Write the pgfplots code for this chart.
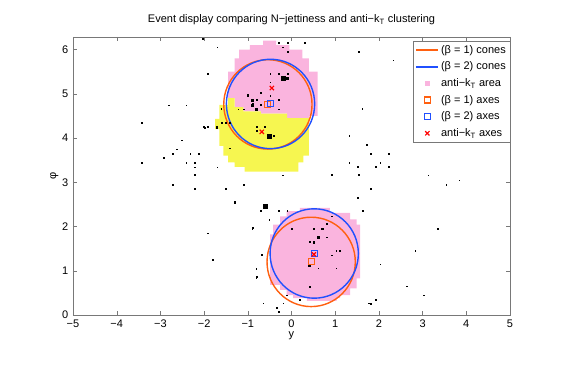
\documentclass[border=0pt]{standalone}
\usepackage{fontspec}
\setmainfont{Liberation Sans}
\usepackage{pgfplots}
\pgfplotsset{compat=1.18}

\definecolor{coneA}{RGB}{255,96,16}
\definecolor{coneB}{RGB}{32,80,255}
\definecolor{areaA}{RGB}{250,180,222}
\definecolor{areaB}{RGB}{246,246,80}
\definecolor{framegray}{RGB}{120,120,120}

\pgfplotsset{
  legline/.style={legend image code/.code={%
    \draw[mark repeat=2,mark phase=2,##1] plot coordinates {(0pt,0pt) (11pt,0pt) (22pt,0pt)};}},
}

\begin{document}
\fontsize{11}{13}\selectfont
\begin{tikzpicture}
\useasboundingbox (-73pt,-51pt) rectangle (495pt,315pt);
\begin{axis}[
  at={(0pt,0pt)}, anchor=south west,
  scale only axis, width=437pt, height=278pt,
  xmin=-5, xmax=5, ymin=0, ymax=6.2832,
  xtick={-5,-4,...,5}, ytick={0,1,...,6},
  xticklabels={−5,−4,−3,−2,−1,0,1,2,3,4,5},
  /pgf/number format/assume math mode=true,
  xticklabel style={yshift=-1pt}, yticklabel style={xshift=-1pt},
  tick align=inside, tick pos=both, major tick length=4pt,
  axis line style={framegray}, tick style={framegray},
  xlabel={y}, ylabel={φ},
  xlabel style={yshift=3pt}, ylabel style={yshift=-4pt},
  title={Event display comparing N−jettiness and anti−k\textsubscript{T} clustering},
  title style={yshift=2pt},
  legline,
  legend style={at={(1,0.985)}, anchor=north east, draw=framegray, fill=white,
    font=\fontsize{11}{12}\selectfont, inner sep=2pt, row sep=3pt},
  legend cell align=left,
]
% anti-kT jet areas
\addplot[fill=areaA, draw=none, forget plot] coordinates {
  (-0.65,6.2) (-0.35,6.2) (-0.35,6.1) (-0.05,6.1) (-0.05,6.0) (0.25,6.0) (0.25,5.8)
  (0.4,5.8) (0.4,5.5) (0.6,5.5) (0.6,4.5) (0.4,4.5) (0.4,4.45) (-0.1,4.45) (-0.1,4.55)
  (-0.7,4.55) (-0.7,4.6) (-1.1,4.6) (-1.1,4.7) (-1.3,4.7) (-1.3,4.9) (-1.45,4.9)
  (-1.45,5.5) (-1.3,5.5) (-1.3,5.8) (-1.2,5.8) (-1.2,6.0) (-0.95,6.0) (-0.95,6.1)
  (-0.65,6.1)} -- cycle;
\addplot[fill=areaB, draw=none, forget plot] coordinates {
  (-1.65,4.75) (-1.45,4.75) (-1.45,4.9) (-1.3,4.9) (-1.3,4.7) (-1.1,4.7) (-1.1,4.6)
  (-0.7,4.6) (-0.7,4.55) (-0.1,4.55) (-0.1,4.45) (0.4,4.45) (0.4,3.6) (0.27,3.6)
  (0.27,3.45) (0.16,3.45) (0.16,3.24) (-1.07,3.24) (-1.07,3.35) (-1.3,3.35) (-1.3,3.45)
  (-1.45,3.45) (-1.45,3.6) (-1.56,3.6) (-1.56,3.82) (-1.65,3.82) (-1.65,4.2) (-1.75,4.2)
  (-1.75,4.43) (-1.65,4.43)} -- cycle;
\addplot[fill=areaA, draw=none, forget plot] coordinates {
  (0.19,2.42) (0.88,2.42) (0.88,2.31) (1.34,2.31) (1.34,2.16) (1.49,2.16) (1.49,2.04)
  (1.57,2.04) (1.57,0.83) (1.49,0.83) (1.49,0.6) (1.34,0.6) (1.34,0.45) (1.11,0.45)
  (1.11,0.38) (1.03,0.38) (1.03,0.32) (0.35,0.32) (0.35,0.38) (0.04,0.38) (0.04,0.45)
  (-0.11,0.45) (-0.11,0.57) (-0.26,0.57) (-0.26,0.68) (-0.49,0.68) (-0.49,1.82)
  (-0.42,1.82) (-0.42,2.04) (-0.26,2.04) (-0.26,2.23) (-0.11,2.23) (-0.11,2.35)
  (0.19,2.35)} -- cycle;
% particles, soft
\addplot[only marks, mark=square*, mark size=0.35pt, mark options={fill=black!50, draw=none}, forget plot] coordinates {
  (-2.03,6.25) (-1.70,6.05) (-1.91,5.46) (-2.81,4.74) (-2.41,4.74) (-3.42,4.34) (-2.01,4.25)
  (-1.91,4.25) (-2.51,3.95) (-2.62,3.75) (-2.72,3.65) (-2.32,3.65) (-2.12,3.65) (-2.92,3.55)
  (-3.42,3.45) (-2.41,3.45) (-2.22,3.45) (-2.22,3.34) (-1.70,3.34) (-2.22,3.17) (-2.72,2.95)
  (-2.22,2.85) (-1.51,2.85) (-1.09,2.95) (-0.69,2.35) (-0.90,1.95) (-1.91,1.85) (-1.81,1.25)
  (-0.69,1.35) (-0.81,1.04) (-0.81,0.85) (3.13,3.16) (3.84,3.05) (3.54,2.95) (1.82,2.85)
  (1.62,2.35) (3.34,1.95) (2.83,1.45) (2.03,1.15) (2.63,0.65) (3.03,0.45) (1.92,0.35)
  (1.82,0.25) (0.31,6.16) (1.53,5.95) (2.33,5.76) (1.62,4.66) (1.32,4.06) (1.72,3.85)
  (1.82,3.65) (2.23,3.65) (1.32,3.45) (1.52,3.35) (2.03,3.45) (1.93,3.35) (2.23,3.35)
  (0.92,3.17) (1.53,3.17) (-0.20,3.16) (-0.30,2.36) (-0.10,2.36) (-0.51,2.16) (-0.70,2.36)
  (0.00,1.95) (0.80,2.06) (0.92,2.23) (0.80,1.76) (0.41,1.65) (1.02,1.45) (1.11,1.45)
  (0.92,1.35) (0.61,1.06) (1.02,1.06) (0.41,0.64) (-0.11,0.45) (0.19,0.34) (-0.19,0.27)
  (-0.80,0.87) (-0.68,1.36) (1.51,2.65) (1.64,2.36) (-0.89,1.97) (-0.30,0.07) (-0.65,0.27)
  (-0.34,0.17) (1.76,0.27) (-1.98,4.24) (-1.61,4.66) (-1.61,4.36) (-0.30,6.15) (-0.09,6.15)
  (-0.20,6.05) (-0.09,5.95) (0.31,6.15) (-0.49,5.45) (-0.30,5.45) (-0.09,5.45) (-0.49,5.26)
  (-0.70,5.03) (-1.01,4.96) (-0.80,4.86) (-0.30,4.86) (-0.49,4.96) (-0.70,4.76) (-1.10,4.65)
  (-1.22,4.65) (-0.29,4.65) (-1.60,4.35) (-1.50,4.35) (-1.41,4.35) (-0.80,4.25) (-0.80,4.16)
  (-0.61,4.25) (-0.40,4.05) (-1.41,3.77) (0.92,3.16)};
% particles, medium
\addplot[only marks, mark=square*, mark size=0.9pt, mark options={fill=black, draw=none}, forget plot] coordinates {
  (-1.30,2.55) (-0.90,4.86) (-0.90,4.74) (-0.80,4.65) (-1.00,4.96) (-0.89,4.77) (-0.09,5.35)
  (0.71,1.95) (0.61,1.76) (0.51,1.95) (0.51,1.65) (0.41,1.13) (-1.71,4.25)};
% particles, hard
\addplot[only marks, mark=square*, mark size=2pt, mark options={fill=black, draw=none}, forget plot] coordinates {
  (-0.61,2.45) (-0.20,5.35) (-0.51,4.05)};
% cones of radius R = 1
\draw[coneA, line width=1.4pt] (axis cs:-0.54,4.76) ellipse [x radius=1.01, y radius=1.01];
\draw[coneB, line width=1.4pt] (axis cs:-0.48,4.77) ellipse [x radius=1.01, y radius=1.01];
\draw[coneA, line width=1.4pt] (axis cs:0.45,1.20) ellipse [x radius=1.01, y radius=1.01];
\draw[coneB, line width=1.4pt] (axis cs:0.52,1.39) ellipse [x radius=1.01, y radius=1.01];
% axes
\addplot[only marks, mark=square, mark size=3pt, coneA, line width=1.1pt, forget plot] coordinates {(-0.54,4.76) (0.45,1.20)};
\addplot[only marks, mark=square, mark size=3pt, coneB, line width=1.1pt, forget plot] coordinates {(-0.48,4.77) (0.52,1.39)};
\addplot[only marks, mark=x, mark size=3pt, red, line width=1.2pt, forget plot] coordinates {(-0.45,5.13) (-0.68,4.14) (0.51,1.37)};
% legend
\addlegendimage{color=coneA, line width=1.5pt}
\addlegendentry{(β = 1) cones}
\addlegendimage{color=coneB, line width=1.5pt}
\addlegendentry{(β = 2) cones}
\addlegendimage{only marks, mark=square*, mark size=1.8pt, color=areaA}
\addlegendentry{anti−k\textsubscript{T} area}
\addlegendimage{only marks, mark=square, mark size=3pt, color=coneA, line width=1.1pt}
\addlegendentry{(β = 1) axes}
\addlegendimage{only marks, mark=square, mark size=3pt, color=coneB, line width=1.1pt}
\addlegendentry{(β = 2) axes}
\addlegendimage{only marks, mark=x, mark size=3pt, color=red, line width=1.2pt}
\addlegendentry{anti−k\textsubscript{T} axes}
\end{axis}
\end{tikzpicture}
\end{document}
